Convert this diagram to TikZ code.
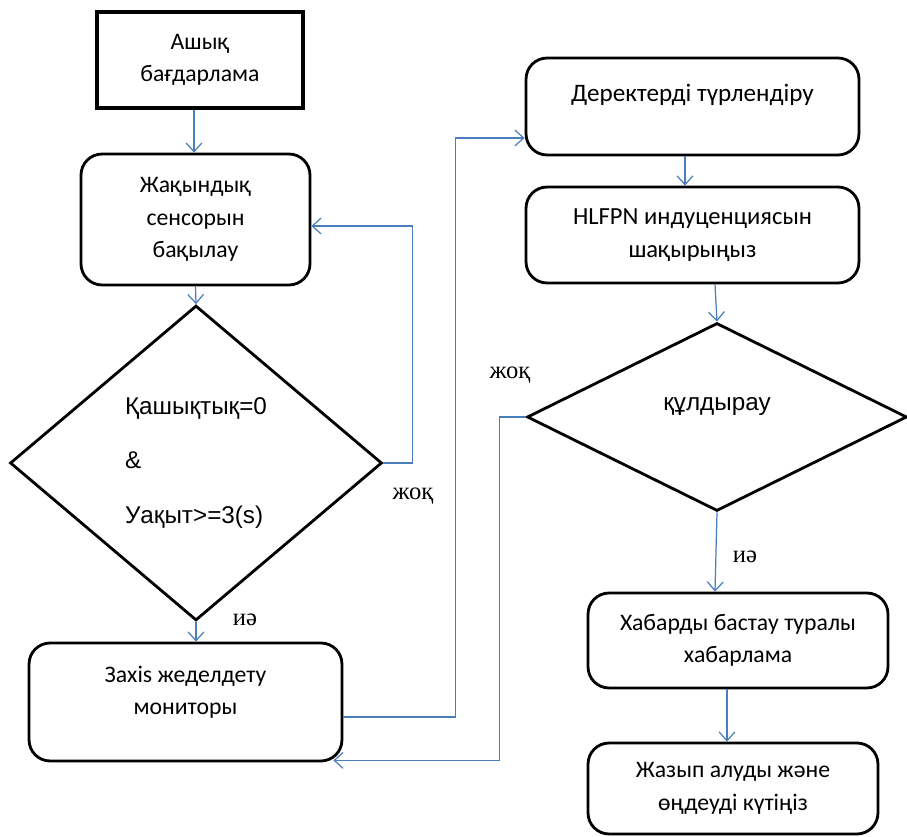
\documentclass[tikz,border=0pt]{standalone}
\usepackage{fontspec}
\setmainfont{Liberation Serif}
\newfontfamily\calibrifont{Carlito}
\newfontfamily\arialfont{Liberation Sans}
\usepackage{xcolor}
\definecolor{linkblue}{RGB}{74, 126, 187}
\usetikzlibrary{positioning, calc, shapes.geometric, arrows.meta}

\begin{document}
\begin{tikzpicture}[x=0.02cm, y=-0.02cm,
    startbox/.style={draw, line width=2pt, align=center, inner sep=0pt, font=\calibrifont\fontsize{13.5}{18.5}\selectfont},
    procbox/.style={draw, line width=1.6pt, rounded corners=12pt, align=center, inner sep=0pt, font=\calibrifont\fontsize{13.5}{18.5}\selectfont},
    decision/.style={diamond, draw, line width=1.6pt, inner sep=0pt, font=\arialfont\fontsize{13.8}{31}\selectfont},
    flow/.style={draw=linkblue, line width=0.7pt, -{Straight Barb[length=5pt, width=9pt]}},
    branch/.style={font=\fontsize{14}{16}\selectfont}]
    \useasboundingbox (0,0) rectangle (907,837);

    % Left column
    \node[startbox, minimum width=4.12cm, minimum height=1.92cm] (start) at (200,60) {Ашық\\бағдарлама};
    \node[procbox, minimum width=4.58cm, minimum height=2.62cm] (sensor) at (195.5,219.5) {Жақындық\\сенсорын\\бақылау};
    \node[decision, align=left, minimum width=7.44cm, minimum height=6.3cm] (check) at (196,463) {Қашықтық=0\\\&\\Уақыт>=3(s)};
    \node[procbox, text depth=13pt, minimum width=6.26cm, minimum height=2.36cm] (monitor) at (185.5,702) {Захіs жеделдету\\мониторы};

    % Right column
    \node[procbox, font=\calibrifont\fontsize{14.3}{18.5}\selectfont, text depth=16pt, minimum width=6.66cm, minimum height=1.94cm] (convert) at (692.5,106.5) {Деректерді түрлендіру};
    \node[procbox, font=\calibrifont\fontsize{14}{18.5}\selectfont, minimum width=6.66cm, minimum height=1.92cm] (hlfpn) at (692.5,235) {HLFPN индуценциясын\\шақырыңыз};
    \node[decision, text depth=14.3pt, minimum width=7.6cm, minimum height=3.76cm] (decide) at (717,417) {құлдырау};
    \node[procbox, minimum width=6cm, minimum height=1.9cm] (habar) at (738,640.5) {Хабарды бастау туралы\\хабарлама};
    \node[procbox, minimum width=5.8cm, minimum height=1.82cm] (wait) at (733,788.5) {Жазып алуды және\\өңдеуді күтіңіз};

    % Branch labels
    \node[branch] (no1) at (413,496) {жоқ};
    \node[branch] (yes1) at (245,620) {иә};
    \node[branch] (no2) at (510,375) {жоқ};
    \node[branch] (yes2) at (745,557) {иә};

    % Connectors
    \coordinate (startout) at ($(start.south)+(-6,0)$);
    \coordinate (convout) at ($(convert.south)+(-7.5,0)$);
    \coordinate (habarout) at ($(habar.south)+(-11,0)$);
    \coordinate (monend) at ($(monitor.south east)+(-10,-2)$);
    \draw[flow] (startout) -- (startout |- sensor.north);
    \draw[flow] (sensor.south) -- (check.north);
    \draw[flow] (check.east) -- ++(29,0) |- ($(sensor.east)+(0,6.5)$);
    \draw[flow] (check.south) -- (check.south |- monitor.north);
    \draw[flow] ($(monitor.east)+(0,15)$) -- ++(112,0) |- ($(convert.west)+(0,31.5)$);
    \draw[flow] (convout) -- (convout |- hlfpn.north);
    \draw[flow] ($(hlfpn.south)+(22.5,0)$) -- (decide.north);
    \draw[flow] (decide.west) -- ++(-26,0) |- (monend);
    \draw[flow] (decide.south) -- ($(habar.north)+(-23,0)$);
    \draw[flow] (habarout) -- (habarout |- wait.north);
\end{tikzpicture}
\end{document}
